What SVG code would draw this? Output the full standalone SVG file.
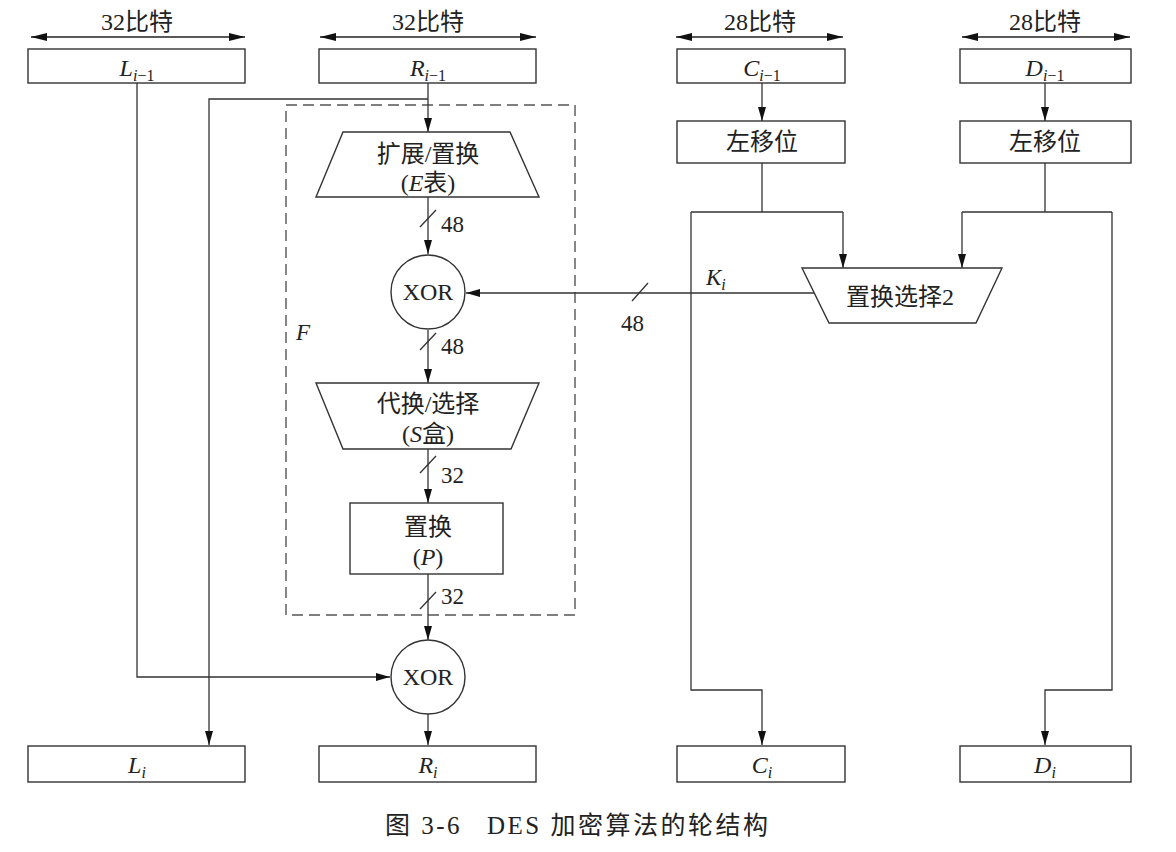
<svg xmlns="http://www.w3.org/2000/svg" width="1176" height="852" viewBox="0 0 1176 852">
<style>
.bg{fill:#fff}
.box{fill:#fff;stroke:#333;stroke-width:1.4}
.ln{fill:none;stroke:#333;stroke-width:1.3}
.arr{fill:none;stroke:#333;stroke-width:1.3;marker-end:url(#ah)}
.dbl{fill:none;stroke:#222;stroke-width:1.6;marker-start:url(#ah2);marker-end:url(#ah2)}
.dash{fill:none;stroke:#555;stroke-width:1.4;stroke-dasharray:11 6}
.t{font-family:"Liberation Serif","Noto Sans CJK SC",serif;font-size:24px;fill:#222;text-anchor:middle}
.tl{font-family:"Liberation Serif","Noto Sans CJK SC",serif;font-size:23px;fill:#222}
.it{font-style:italic}
.sub{font-size:16px;font-style:italic}
.cap{font-family:"Liberation Serif","Noto Sans CJK SC",serif;font-size:25px;letter-spacing:2.5px;fill:#222}
</style>
<defs>
<marker id="ah" markerUnits="userSpaceOnUse" markerWidth="14" markerHeight="8" refX="14" refY="4" orient="auto"><path d="M0,0 L14,4 L0,8 z" fill="#111"/></marker>
<marker id="ah2" markerUnits="userSpaceOnUse" markerWidth="16" markerHeight="8" refX="16" refY="4" orient="auto-start-reverse"><path d="M0,0 L16,4 L0,8 z" fill="#111"/></marker>
</defs>
<rect class="bg" x="0" y="0" width="1176" height="852"/>

<g id="widths">
<path class="dbl" d="M31,37 H245"/>
<text class="t" x="137" y="30">32比特</text>
<path class="dbl" d="M320,37 H536"/>
<text class="t" x="428" y="30">32比特</text>
<path class="dbl" d="M676,37 H843"/>
<text class="t" x="760" y="30">28比特</text>
<path class="dbl" d="M962,37 H1130"/>
<text class="t" x="1045" y="30">28比特</text>
</g>

<g id="F-frame">
<rect class="dash" x="286" y="105" width="289" height="510"/>
<text class="tl it" x="296" y="340">F</text>
</g>

<g id="connectors">
<path class="arr" d="M428,83 V132"/>
<path class="arr" d="M428,99 H209 V745"/>
<path class="arr" d="M137,83 V677 H390"/>
<path class="arr" d="M428,197 V254"/>
<path class="arr" d="M428,330 V383"/>
<path class="arr" d="M428,449 V503"/>
<path class="arr" d="M428,574 V640"/>
<path class="arr" d="M428,714 V745"/>
<path class="arr" d="M762,83 V121"/>
<path class="ln" d="M762,163 V212"/>
<path class="ln" d="M691,212 H843"/>
<path class="arr" d="M843,212 V268"/>
<path class="arr" d="M691,212 V690 H762 V745"/>
<path class="arr" d="M1045,83 V121"/>
<path class="ln" d="M1045,163 V212"/>
<path class="ln" d="M962,212 H1112"/>
<path class="arr" d="M962,212 V268"/>
<path class="arr" d="M1112,212 V690 H1045 V745"/>
<path class="arr" d="M814,293 H466"/>
<path class="ln" d="M420,227 L436,210"/>
<path class="ln" d="M420,350 L436,333"/>
<path class="ln" d="M420,473 L436,456"/>
<path class="ln" d="M420,609 L436,592"/>
<path class="ln" d="M632,301 L648,283"/>
<text class="tl" x="441" y="232">48</text>
<text class="tl" x="441" y="354">48</text>
<text class="tl" x="441" y="483">32</text>
<text class="tl" x="441" y="604">32</text>
<text class="tl" x="621" y="331">48</text>
<text class="tl" x="706" y="285"><tspan class="it">K</tspan><tspan class="sub" dy="5">i</tspan></text>
</g>

<g id="L_prev"><rect class="box" x="28" y="49" width="217" height="34"/>
<text class="t" x="137" y="76"><tspan class="it">L</tspan><tspan class="sub" dy="5">i</tspan><tspan font-size="16px">−1</tspan></text></g>
<g id="R_prev"><rect class="box" x="319" y="49" width="217" height="34"/>
<text class="t" x="428" y="76"><tspan class="it">R</tspan><tspan class="sub" dy="5">i</tspan><tspan font-size="16px">−1</tspan></text></g>
<g id="C_prev"><rect class="box" x="677" y="49" width="168" height="34"/>
<text class="t" x="762" y="76"><tspan class="it">C</tspan><tspan class="sub" dy="5">i</tspan><tspan font-size="16px">−1</tspan></text></g>
<g id="D_prev"><rect class="box" x="960" y="49" width="171" height="34"/>
<text class="t" x="1045" y="76"><tspan class="it">D</tspan><tspan class="sub" dy="5">i</tspan><tspan font-size="16px">−1</tspan></text></g>

<g id="shiftC"><rect class="box" x="677" y="121" width="168" height="42"/>
<text class="t" x="762" y="150">左移位</text></g>
<g id="shiftD"><rect class="box" x="960" y="121" width="171" height="42"/>
<text class="t" x="1045" y="150">左移位</text></g>

<g id="E"><path class="box" d="M343,132 H510 L539,197 H316 Z"/>
<text class="t" x="428" y="162">扩展/置换</text>
<text class="t" x="428" y="191">(<tspan class="it">E</tspan>表)</text></g>

<g id="XOR1"><circle class="box" cx="428" cy="292" r="37"/>
<text class="t" x="428" y="300">XOR</text></g>

<g id="S"><path class="box" d="M316,383 H539 L511,449 H343 Z"/>
<text class="t" x="428" y="412">代换/选择</text>
<text class="t" x="428" y="442">(<tspan class="it">S</tspan>盒)</text></g>

<g id="P"><rect class="box" x="350" y="503" width="153" height="71"/>
<text class="t" x="428" y="535">置换</text>
<text class="t" x="428" y="565">(<tspan class="it">P</tspan>)</text></g>

<g id="XOR2"><circle class="box" cx="428" cy="677" r="37"/>
<text class="t" x="428" y="685">XOR</text></g>

<g id="PC2"><path class="box" d="M802,268 H1002 L976,323 H829 Z"/>
<text class="t" x="900" y="305">置换选择2</text></g>

<g id="L_i"><rect class="box" x="28" y="746" width="217" height="36"/>
<text class="t" x="137" y="773"><tspan class="it">L</tspan><tspan class="sub" dy="5">i</tspan></text></g>
<g id="R_i"><rect class="box" x="319" y="746" width="217" height="36"/>
<text class="t" x="428" y="773"><tspan class="it">R</tspan><tspan class="sub" dy="5">i</tspan></text></g>
<g id="C_i"><rect class="box" x="677" y="746" width="168" height="36"/>
<text class="t" x="762" y="773"><tspan class="it">C</tspan><tspan class="sub" dy="5">i</tspan></text></g>
<g id="D_i"><rect class="box" x="960" y="746" width="171" height="36"/>
<text class="t" x="1045" y="773"><tspan class="it">D</tspan><tspan class="sub" dy="5">i</tspan></text></g>

<g id="caption">
<text class="cap" x="385" y="834">图 3-6</text>
<text class="cap" x="487" y="834">DES 加密算法的轮结构</text>
</g>
</svg>
